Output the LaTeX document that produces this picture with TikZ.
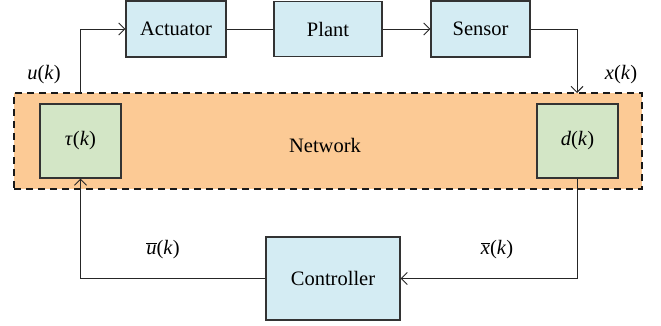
\documentclass[tikz,border=0pt]{standalone}
\usepackage{fontspec}
\setmainfont{Liberation Serif}
\usetikzlibrary{arrows.meta}
\definecolor{boxblue}{HTML}{D4ECF3}
\definecolor{boxgreen}{HTML}{D3E6C6}
\definecolor{netorange}{HTML}{FCCA95}
\definecolor{edge}{HTML}{333333}
\tikzset{
  blk/.style={draw=edge, line width=1.2pt, fill=boxblue, inner sep=0pt, font=\fontsize{20.5}{24}\selectfont},
  gblk/.style={draw=edge, line width=1.2pt, fill=boxgreen, inner sep=0pt, minimum width=81pt, minimum height=74pt, font=\fontsize{20.5}{24}\selectfont},
  lbl/.style={font=\fontsize{20.5}{24}\selectfont, inner sep=0pt},
  conn/.style={draw=black!85, line width=0.95pt, -{Straight Barb[length=6pt,width=12pt,line width=0.95pt]}},
  plain/.style={draw=black!85, line width=0.95pt},
}
\newcommand{\obar}[1]{\leavevmode\vbox{\hrule height 1pt\kern1.5pt\hbox{#1}}}
\begin{document}
\begin{tikzpicture}[x=1pt,y=-1pt]
\useasboundingbox (0,0) rectangle (661,325);
% network
\node[draw=black!90, dashed, dash pattern=on 7pt off 5pt, line width=1.1pt, fill=netorange, minimum width=628pt, minimum height=96pt, inner sep=0pt] (net) at (328,141) {};
\node[lbl] (netlbl) at (325,145) {Network};
\node[gblk] (tau) at (80.5,141) {\textit{τ}(\textit{k})};
\node[gblk] (d) at (577.5,141) {\textit{d}(\textit{k})};
% top blocks
\node[blk, minimum width=100pt, minimum height=56pt] (act) at (176,29) {Actuator};
\node[blk, minimum width=108pt, minimum height=55pt] (plant) at (328,29) {Plant};
\node[blk, minimum width=99pt, minimum height=56pt] (sens) at (480.5,29) {Sensor};
\node[blk, minimum width=134pt, minimum height=83pt] (ctrl) at (333,278.5) {Controller};
% labels
\node[lbl] (u) at (44,75) {\textit{u}(\textit{k})};
\node[lbl] (x) at (621,75) {\textit{x}(\textit{k})};
\node[lbl] (ub) at (163,250) {\obar{\textit{u}}(\textit{k})};
\node[lbl] (xb) at (497,250) {\obar{\textit{x}}(\textit{k})};
% coordinates
\coordinate (ntop1) at (80,93);
\coordinate (ntop2) at (577,93);
% connectors
\draw[conn] (ntop1) |- (act.west);
\draw[plain] (act.east) -- (plant.west);
\draw[conn] (plant.east) -- (sens.west);
\draw[conn] (sens.east) -| (ntop2);
\draw[conn] (d.south) |- (ctrl.east);
\draw[conn] (ctrl.west) -| (tau.south);
\end{tikzpicture}
\end{document}
